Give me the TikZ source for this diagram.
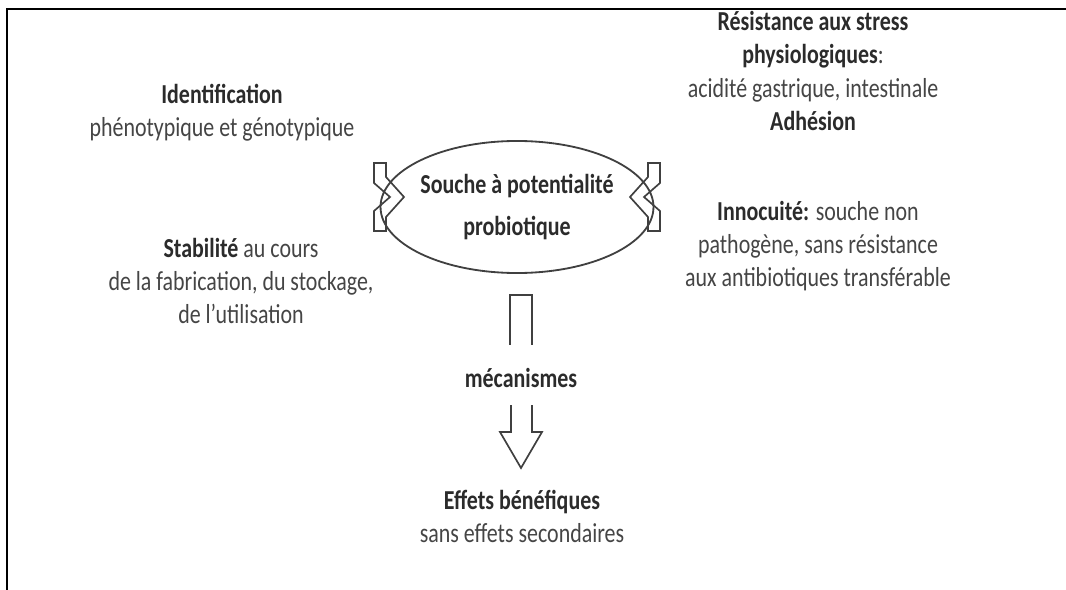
\documentclass[tikz,border=0pt]{standalone}
\usepackage{fontspec}
\setmainfont[FakeStretch=0.8]{Carlito}
\usepackage{tikz}
\usetikzlibrary{shapes.geometric}

\definecolor{txtgray}{gray}{0.27}
\definecolor{boldgray}{gray}{0.17}
\definecolor{linegray}{gray}{0.25}
\newcommand{\motcle}[1]{{\bfseries\color{boldgray}#1}}

\tikzset{
  lbl/.style={align=center, text=txtgray, inner sep=0pt,
    font=\fontsize{19.5}{23.5}\selectfont},
  hollow/.style={draw=linegray, line width=1.2pt, line join=miter},
}

\begin{document}
\begin{tikzpicture}[x=0.025cm, y=-0.025cm]
\useasboundingbox (0,0) rectangle (1066,590);
% cadre
\draw[line width=1.5pt] (7,590) -- (7,9) -- (1066,9);

% souche au centre
\node[lbl, ellipse, draw=linegray, line width=1.3pt, minimum width=5.85cm,
  minimum height=3.3cm, font=\fontsize{19.5}{30}\selectfont\bfseries,
  text=boldgray] (souche) at (517,207) {Souche à potentialité\\probiotique};

% criteres a gauche
\node[lbl] (ident) at (222,113) {\motcle{Identification}\\phénotypique et génotypique};
\node[lbl] (stab) at (241,281) {\motcle{Stabilité} au cours\\de la fabrication, du stockage,\\de l’utilisation};

% criteres a droite
\node[lbl] (resist) at (813,71) {\motcle{Résistance aux stress}\\\motcle{physiologiques}:\\acidité gastrique, intestinale\\\motcle{Adhésion}};
\node[lbl] (innoc) at (818,246) {\motcle{Innocuité:} souche non\\pathogène, sans résistance\\aux antibiotiques transférable};

% en bas
\node[lbl] (meca) at (521,378) {\motcle{mécanismes}};
\node[lbl] (effets) at (522,516) {\motcle{Effets bénéfiques}\\sans effets secondaires};

% fleches creuses
\draw[hollow] (374,163) -- (386,163) -- (386,177) -- (404,197) -- (386,217) -- (386,231)
  -- (374,231) -- (374,211) -- (390,197) -- (374,183) -- cycle;
\draw[hollow] (660,163) -- (648,163) -- (648,177) -- (630,197) -- (648,217) -- (648,231)
  -- (660,231) -- (660,211) -- (644,197) -- (660,183) -- cycle;
\draw[hollow] (510,345) -- (510,295) -- (532,295) -- (532,345);
\draw[hollow] (511,405) -- (511,432) -- (500,432) -- (521,468) -- (542,432) -- (532,432) -- (532,405);
\end{tikzpicture}
\end{document}
